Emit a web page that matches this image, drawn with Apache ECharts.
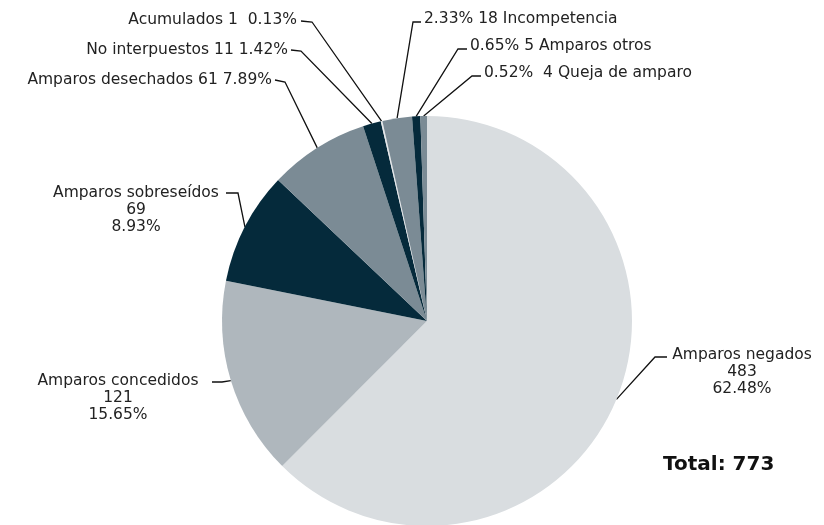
<!DOCTYPE html>
<html>
<head>
<meta charset="utf-8">
<script src="https://cdn.jsdelivr.net/npm/echarts@6/dist/echarts.min.js"></script>
<style>
  html, body { margin: 0; padding: 0; background: #fff; }
  #main { width: 824px; height: 525px; }
</style>
</head>
<body>
<div id="main"></div>
<script>
// datos del reporte
var nombres = ['Amparos negados', 'Amparos concedidos', 'Amparos sobreseídos', 'Amparos desechados',
  'No interpuestos', 'Acumulados', 'Incompetencia', 'Amparos otros', 'Queja de amparo'];
var valores = [483, 121, 69, 61, 11, 1, 18, 5, 4];
var total = 773;
// colores de cada rebanada
var colores = ['#d9dde0', '#afb7bd', '#052a3b', '#7b8b95', '#052a3b', '#e4e7ea', '#7b8b95', '#052a3b', '#7b8b95'];

// como se escribe cada etiqueta
var formato = ['stack', 'stack', 'stack', 'left', 'left', 'left2', 'right', 'right', 'right2'];
// posicion de las etiquetas: x, y, align, codo de la linea
var posEtiq = [
  { x: 742, y: 346, align: 'center', va: 'top', codo: [655, 357], fin: [667, 357] },
  { x: 118, y: 372, align: 'center', va: 'top', codo: [222, 382], fin: [212, 382] },
  { x: 136, y: 184, align: 'center', va: 'top', codo: [238, 193], fin: [226, 193] },
  { x: 272, y: 80, align: 'right', va: 'middle', codo: [285, 82], fin: [275, 80] },
  { x: 288, y: 50, align: 'right', va: 'middle', codo: [301, 51], fin: [291, 50] },
  { x: 297, y: 20, align: 'right', va: 'middle', codo: [312, 22], fin: [301, 21] },
  { x: 424, y: 19, align: 'left', va: 'middle', codo: [413, 22], fin: [421, 22] },
  { x: 470, y: 46, align: 'left', va: 'middle', codo: [458, 49], fin: [467, 49] },
  { x: 484, y: 73, align: 'left', va: 'middle', codo: [472, 76], fin: [481, 76] }
];

var datos = [];
for (var i = 0; i < nombres.length; i++) {
  datos.push({ name: nombres[i], value: valores[i], itemStyle: { color: colores[i] } });
}

var chart = echarts.init(document.getElementById('main'));
var option = {
  animation: false,
  textStyle: { fontFamily: 'DejaVu Sans' },
  graphic: [{
    type: 'text', left: 663, top: 455,
    style: { text: 'Total: ' + total, font: 'bold 20px "DejaVu Sans"', fill: '#111' }
  }],
  series: [{
    type: 'pie',
    center: [427, 321],
    radius: 205,
    startAngle: 90,
    clockwise: true,
    percentPrecision: 2,
    data: datos,
    label: {
      show: true,
      position: 'outside',
      color: '#222',
      fontSize: 15.5,
      lineHeight: 17,
      overflow: 'none',
      formatter: function (p) {
        var pct = p.percent.toFixed(2) + '%';
        var f = formato[p.dataIndex];
        if (f == 'stack') return p.name + '\n' + p.value + '\n' + pct;
        if (f == 'left') return p.name + ' ' + p.value + ' ' + pct;
        if (f == 'left2') return p.name + ' ' + p.value + '  ' + pct;
        if (f == 'right') return pct + ' ' + p.value + ' ' + p.name;
        return pct + '  ' + p.value + ' ' + p.name;
      }
    },
    labelLine: { show: true, lineStyle: { color: '#111', width: 1.3 } },
    labelLayout: function (params) {
      var e = posEtiq[params.dataIndex];
      var borde = params.labelLinePoints ? params.labelLinePoints[0] : e.codo;
      return {
        x: e.x, y: e.y, align: e.align, verticalAlign: e.va,
        labelLinePoints: [borde, e.codo, e.fin]
      };
    }
  }]
};
chart.setOption(option);
</script>
</body>
</html>
